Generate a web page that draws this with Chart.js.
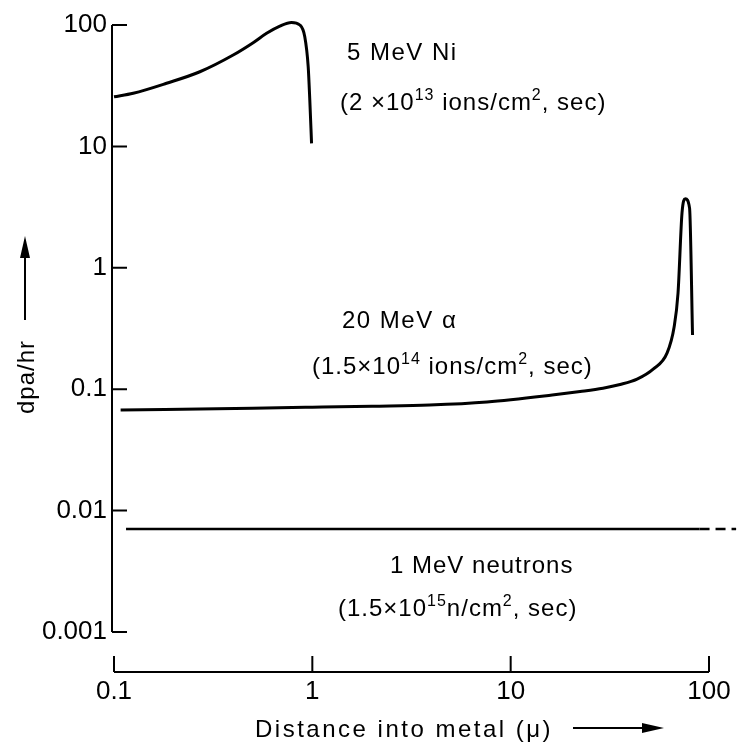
<!DOCTYPE html>
<html>
<head>
<meta charset="utf-8">
<script src="https://cdn.jsdelivr.net/npm/chart.js@4.4.1/dist/chart.umd.min.js"></script>
<style>
  body { margin: 0; background: #fff; }
</style>
</head>
<body>
<canvas id="myChart" width="738" height="746"></canvas>
<script>
// ---- data (log-log) ----
const xTicks = [0.1, 1, 10, 100];
const xTickLabels = ["0.1", "1", "10", "100"];
const yTicks = [0.001, 0.01, 0.1, 1, 10, 100];
const yTickLabels = ["0.001", "0.01", "0.1", "1", "10", "100"];

// 5 MeV Ni
const niX = [0.1, 0.125, 0.184, 0.271, 0.399, 0.503, 0.588, 0.686, 0.785, 0.865, 0.916, 0.953, 0.971, 0.991];
const niY = [25.6, 27.4, 33.1, 41.2, 56.6, 71.5, 85.5, 98, 105, 100, 80, 45.4, 24.1, 10.6];

// 20 MeV alpha
const alphaX = [0.108, 0.5, 1, 2, 3.9, 7.6, 16.2, 22.4, 29.2, 35.6, 43.4, 52.3, 61.5, 66.7, 69.8, 73.1, 76, 79.8, 82.6];
const alphaY = [0.0674, 0.0698, 0.0711, 0.0725, 0.0741, 0.0785, 0.0895, 0.0957, 0.102, 0.1094, 0.1213, 0.1466, 0.199, 0.325, 0.62, 2.83, 3.7, 3.1, 0.28];

// 1 MeV neutrons
const neutronX = [0.115, 89.6, 137];
const neutronY = [0.00705, 0.00705, 0.00705];

const FONT = "'Liberation Sans', Arial, sans-serif";

function toPoints(xs, ys) {
  return xs.map((x, i) => ({ x: x, y: ys[i] }));
}

// draws text made of normal + superscript pieces
function richText(ctx, parts, x, y, size, spacing) {
  let cx = x;
  parts.forEach((p) => {
    const sup = p.sup === true;
    ctx.font = (sup ? Math.round(size * 0.68) : size) + "px " + FONT;
    ctx.letterSpacing = spacing + "px";
    ctx.fillText(p.t, cx, sup ? y - size * 0.42 : y);
    cx += ctx.measureText(p.t).width;
  });
}

function arrow(ctx, x1, y1, x2, y2) {
  const ang = Math.atan2(y2 - y1, x2 - x1);
  const len = 22, half = 5;
  ctx.beginPath();
  ctx.moveTo(x1, y1);
  ctx.lineTo(x2 - Math.cos(ang) * len, y2 - Math.sin(ang) * len);
  ctx.stroke();
  ctx.beginPath();
  ctx.moveTo(x2, y2);
  ctx.lineTo(x2 - Math.cos(ang) * len - Math.sin(ang) * half, y2 - Math.sin(ang) * len + Math.cos(ang) * half);
  ctx.lineTo(x2 - Math.cos(ang) * len + Math.sin(ang) * half, y2 - Math.sin(ang) * len - Math.cos(ang) * half);
  ctx.closePath();
  ctx.fill();
}

// axes drawn like the original: y axis with inward ticks, x axis set below it
const axesPlugin = {
  id: "axesPlugin",
  afterDraw(chart) {
    const ctx = chart.ctx;
    const xs = chart.scales.x;
    const ys = chart.scales.y;
    ctx.save();
    ctx.strokeStyle = "#000";
    ctx.fillStyle = "#000";
    ctx.lineWidth = 2;

    const ax = xs.getPixelForValue(xTicks[0]) - 2;
    const yTop = ys.getPixelForValue(yTicks[yTicks.length - 1]);
    const yBot = ys.getPixelForValue(yTicks[0]);
    ctx.beginPath();
    ctx.moveTo(ax, yTop);
    ctx.lineTo(ax, yBot);
    yTicks.forEach((v) => {
      const py = ys.getPixelForValue(v);
      ctx.moveTo(ax, py);
      ctx.lineTo(ax + 15, py);
    });
    ctx.stroke();

    const ay = yBot + 40;
    ctx.beginPath();
    ctx.moveTo(xs.getPixelForValue(xTicks[0]), ay);
    ctx.lineTo(xs.getPixelForValue(xTicks[xTicks.length - 1]), ay);
    xTicks.forEach((v) => {
      const px = xs.getPixelForValue(v);
      ctx.moveTo(px, ay);
      ctx.lineTo(px, ay - 16);
    });
    ctx.stroke();

    // axis titles
    ctx.textBaseline = "alphabetic";
    ctx.textAlign = "left";
    ctx.font = "24px " + FONT;
    ctx.letterSpacing = "2.5px";
    ctx.fillText("Distance into metal (\u03bc)", 255, 737);
    arrow(ctx, 573, 728, 664, 728);

    ctx.save();
    ctx.translate(34, 377);
    ctx.rotate(-Math.PI / 2);
    ctx.textAlign = "center";
    ctx.letterSpacing = "1px";
    ctx.fillText("dpa/hr", 0, 0);
    ctx.restore();
    arrow(ctx, 25, 320, 25, 236);

    // curve labels
    ctx.textAlign = "left";
    richText(ctx, [{ t: "5 MeV Ni" }], 347, 60, 24, 1.5);
    richText(ctx, [{ t: "(2 \u00d710" }, { t: "13", sup: true }, { t: " ions/cm" }, { t: "2", sup: true }, { t: ", sec)" }], 340, 110, 24, 1);
    richText(ctx, [{ t: "20 MeV \u03b1" }], 342, 328, 24, 1.5);
    richText(ctx, [{ t: "(1.5\u00d710" }, { t: "14", sup: true }, { t: " ions/cm" }, { t: "2", sup: true }, { t: ", sec)" }], 312, 374, 24, 1);
    richText(ctx, [{ t: "1 MeV neutrons" }], 390, 573, 24, 1);
    richText(ctx, [{ t: "(1.5\u00d710" }, { t: "15", sup: true }, { t: "n/cm" }, { t: "2", sup: true }, { t: ", sec)" }], 338, 616, 24, 1);
    ctx.restore();
  },
};

const ctxChart = document.getElementById("myChart").getContext("2d");

const lineStyle = {
  borderColor: "#000",
  borderWidth: 3,
  pointRadius: 0,
  fill: false,
  clip: false,
  cubicInterpolationMode: "monotone",
};

const myChart = new Chart(ctxChart, {
  type: "line",
  data: {
    datasets: [
      Object.assign({ label: "5 MeV Ni", data: toPoints(niX, niY) }, lineStyle),
      Object.assign({ label: "20 MeV \u03b1", data: toPoints(alphaX, alphaY) }, lineStyle),
      Object.assign({
        label: "1 MeV neutrons",
        data: toPoints(neutronX, neutronY),
        segment: {
          borderDash: (c) => (c.p0DataIndex === 1 ? [10, 6] : undefined),
        },
      }, lineStyle, { borderWidth: 2.5 }),
    ],
  },
  options: {
    responsive: false,
    animation: false,
    devicePixelRatio: 1,
    layout: { padding: { top: 25, right: 29, left: 0, bottom: 0 } },
    plugins: {
      legend: { display: false },
      tooltip: { enabled: false },
    },
    scales: {
      x: {
        type: "logarithmic",
        min: 0.1,
        max: 100,
        afterBuildTicks: (s) => {
          s.ticks = xTicks.map((v) => ({ value: v }));
        },
        afterFit: (s) => {
          s.height = 114;
          s.paddingLeft = 0;
          s.paddingRight = 0;
        },
        grid: { display: false, drawTicks: false },
        border: { display: false },
        ticks: {
          autoSkip: false,
          maxRotation: 0,
          padding: 44,
          color: "#000",
          font: { family: FONT, size: 26 },
          callback: (v, i) => xTickLabels[i],
        },
      },
      y: {
        type: "logarithmic",
        min: 0.001,
        max: 100,
        afterBuildTicks: (s) => {
          s.ticks = yTicks.map((v) => ({ value: v }));
        },
        afterFit: (s) => {
          s.width = 114;
          s.paddingTop = 0;
          s.paddingBottom = 0;
        },
        grid: { display: false, drawTicks: false },
        border: { display: false },
        ticks: {
          autoSkip: false,
          padding: 7,
          color: "#000",
          font: { family: FONT, size: 26 },
          callback: (v, i) => yTickLabels[i],
        },
      },
    },
  },
  plugins: [axesPlugin],
});
</script>
</body>
</html>
